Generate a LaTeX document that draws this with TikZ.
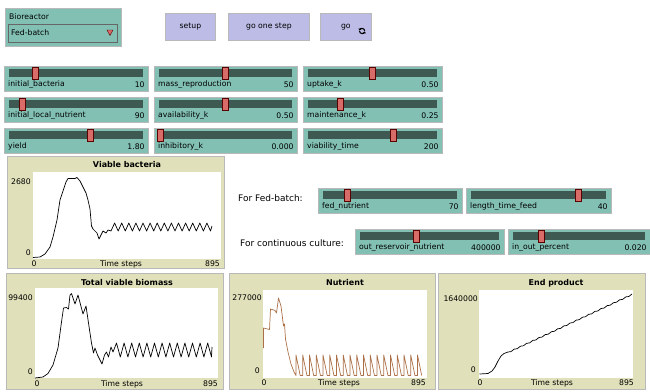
\documentclass[tikz,border=0pt]{standalone}
\usepackage{fontspec}
\setmainfont{DejaVu Sans}
\usepackage{tikz}
\usetikzlibrary{arrows.meta,positioning,shapes}
\definecolor{slidergreen}{RGB}{130,192,180}
\definecolor{trackgray}{RGB}{62,88,82}
\definecolor{knobred}{RGB}{216,108,104}
\definecolor{buttonblue}{RGB}{188,188,230}
\definecolor{plotbeige}{RGB}{224,224,186}
\definecolor{nutbrown}{RGB}{172,112,72}
% slider: name, left, top, right, knob, label, value
\newcommand{\netslider}[7]{%
  \node[slider, minimum width=#4pt-#2pt, anchor=north west] (#1) at (#2,#3) {};
  \fill[track] (#2+5,#3+3) rectangle (#4-5,#3+11);
  \draw[knob] (#5-3,#3+1) rectangle (#5+3,#3+13);
  \node[lbl, anchor=west] (#1-name) at ([xshift=4pt,yshift=7pt]#1.south west) {#6};
  \node[lbl, anchor=east] (#1-val)  at ([xshift=-4pt,yshift=7pt]#1.south east) {#7};
}

\begin{document}
\begin{tikzpicture}[x=1pt,y=-1pt]
\tikzstyle{slider}=[rectangle, draw=gray!55, line width=0.8pt, fill=slidergreen, minimum height=25pt, inner sep=0pt]
\tikzstyle{track}=[fill=trackgray]
\tikzstyle{knob}=[fill=knobred, draw=red!35!black, line width=0.4pt]
\tikzstyle{lbl}=[font=\fontsize{7.7}{9}\selectfont, inner sep=0pt]
\tikzstyle{ttl}=[font=\fontsize{8}{9}\selectfont\bfseries, inner sep=0pt]
\tikzstyle{note}=[font=\fontsize{9}{11}\selectfont, inner sep=0pt]
\tikzstyle{btn}=[rectangle, draw=gray!55, line width=0.8pt, fill=buttonblue, minimum height=27pt, inner sep=0pt, font=\fontsize{7.7}{9}\selectfont]
\tikzstyle{plotbox}=[rectangle, draw=gray!55, line width=0.8pt, fill=plotbeige, inner sep=0pt]
\tikzstyle{plotarea}=[rectangle, fill=white, inner sep=0pt]
\tikzstyle{series}=[line width=0.7pt, line join=round]

  \useasboundingbox (0,0) rectangle (650,391);
  \fill[white] (0,0) rectangle (650,391);

  % chooser and buttons
  \node[slider, minimum width=116pt, minimum height=38pt, anchor=north west] (chooser) at (5,8) {};
  \node[lbl, anchor=west] (choosername) at (9,17) {Bioreactor};
  \node[slider, draw=gray!80!black, minimum width=109pt, minimum height=18pt, anchor=north west] (menu) at (8,24) {};
  \node[lbl, anchor=west] (menuval) at (11,33) {Fed-batch};
  \draw[knob] (107,30) -- (113,30) -- (110,35.5) -- cycle;

  \node[btn, minimum width=50pt, anchor=north west] (setup) at (165,13) {setup};
  \node[btn, minimum width=81pt, anchor=north west] (onestep) at (228,13) {go one step};
  \node[btn, minimum width=51pt, anchor=north west] (go) at (320,13) {go};
  \draw[line width=1.1pt, -{Triangle[length=1.8pt,width=3pt]}] (359.5,31) arc[start angle=180, end angle=10, radius=2.6];
  \draw[line width=1.1pt, -{Triangle[length=1.8pt,width=3pt]}] (364.7,31) arc[start angle=0, end angle=-170, radius=2.6];

  % sliders
  \netslider{bact}{4}{66}{148}{35}{initial\_bacteria}{10}
  \netslider{massrep}{154}{66}{297}{225}{mass\_reproduction}{50}
  \netslider{uptake}{303}{66}{442}{372}{uptake\_k}{0.50}
  \netslider{nutr}{4}{97}{148}{22}{initial\_local\_nutrient}{90}
  \netslider{avail}{154}{97}{297}{225}{availability\_k}{0.50}
  \netslider{maint}{303}{97}{442}{340}{maintenance\_k}{0.25}
  \netslider{yield}{4}{128}{148}{90}{yield}{1.80}
  \netslider{inhib}{154}{128}{297}{160}{inhibitory\_k}{0.000}
  \netslider{viab}{303}{128}{442}{393}{viability\_time}{200}

  \node[note, anchor=west] (fedtext) at (238,198) {For Fed-batch:};
  \netslider{fed}{318}{188}{462}{347}{fed\_nutrient}{70}
  \netslider{feedtime}{466}{188}{611}{578}{length\_time\_feed}{40}
  \node[note, anchor=west] (conttext) at (240,243) {For continuous culture:};
  \netslider{reservoir}{355}{229}{504}{416}{out\_reservoir\_nutrient}{400000}
  \netslider{inout}{508}{229}{650}{541}{in\_out\_percent}{0.020}

  % viable bacteria
  \node[plotbox, minimum width=217pt, minimum height=112pt, anchor=north west] (viablebox) at (7,156) {};
  \node[plotarea, minimum width=188pt, minimum height=87pt, anchor=north west] (viablearea) at (33,172) {};
  \node[ttl] (viabletitle) at (127,165) {Viable bacteria};
  \node[lbl, anchor=east] (viablemax) at (31,182) {2680};
  \node[lbl, anchor=east] (viablemin) at (31,253) {0};
  \node[lbl] (viablex0) at (34,264) {0};
  \node[lbl] (viablexlab) at (121,264) {Time steps};
  \node[lbl, anchor=east] (viablexmax) at (220,264) {895};
  \draw[series] (33,257.5) -- (40,257) -- (45,254) -- (50,247) -- (53,237) -- (57,220) -- (60,200) -- (63,191) -- (66,182) -- (68,178.5) -- (75,178.5) -- (77,177.5) -- (80,181) -- (83,187) -- (86,193) -- (88,200) -- (90,209) -- (91.5,226) -- (93,229) -- (97,233) -- (99,239) -- (101,235) -- (103,231) -- (106,233) -- (108,230) -- (111,231)
    \foreach \i in {0,...,13} {-- ({114.6+7.1*\i},223) -- ({118.2+7.1*\i},231)} -- (212,226);

  % total viable biomass
  \node[plotbox, minimum width=217pt, minimum height=116pt, anchor=north west] (massbox) at (6,273) {};
  \node[plotarea, minimum width=183pt, minimum height=90pt, anchor=north west] (massarea) at (35,288) {};
  \node[ttl] (masstitle) at (127,283) {Total viable biomass};
  \node[lbl, anchor=east] (massmax) at (33,298) {99400};
  \node[lbl, anchor=east] (massmin) at (33,372) {0};
  \node[lbl] (massx0) at (37,384) {0};
  \node[lbl] (massxlab) at (122,384) {Time steps};
  \node[lbl, anchor=east] (massxmax) at (218,384) {895};
  \draw[series] (35,378) -- (43,377) -- (48,373.5) -- (53,365) -- (58,348) -- (61.5,322) -- (63.5,308) -- (66.5,307.5) -- (68.5,309) -- (70,295) -- (71.5,293.5) -- (75,304) -- (78,295) -- (83,314) -- (86,306) -- (88.5,323) -- (91.5,343) -- (93.5,353) -- (95,348) -- (97.5,355) -- (100,360) -- (102,364) -- (104.5,355) -- (106.5,352) -- (108.5,357) -- (111,347) -- (113,352)
    \foreach \i in {0,...,12} {-- ({116.5+7.6*\i},343) -- ({120.3+7.6*\i},357)} -- (212,347);

  % nutrient
  \node[plotbox, minimum width=206pt, minimum height=116pt, anchor=north west] (nutbox) at (229,273) {};
  \node[plotarea, minimum width=164pt, minimum height=88pt, anchor=north west] (nutarea) at (263,290) {};
  \node[ttl] (nuttitle) at (345,283) {Nutrient};
  \node[lbl, anchor=east] (nutmax) at (262,298) {277000};
  \node[lbl, anchor=east] (nutmin) at (260,371) {0};
  \node[lbl] (nutx0) at (264,383) {0};
  \node[lbl] (nutxlab) at (339,383) {Time steps};
  \node[lbl, anchor=east] (nutxmax) at (426,383) {895};
  \draw[series, nutbrown] (263.5,348) -- (263.5,328) -- (269.5,329.5) -- (270.5,309) -- (275,310.5) -- (276.5,313) -- (278.5,298) -- (281,306) -- (282,314) -- (283.5,326) -- (284.5,324) -- (285.5,339) -- (288,352) -- (291,364) -- (294,372) -- (296,375.5)
    \foreach \i in {0,...,18} {-- ({296+6.75*\i},375.5) -- ({296+6.75*\i},355) -- ({300.2+6.75*\i},375.5)};

  % end product
  \node[plotbox, minimum width=207pt, minimum height=116pt, anchor=north west] (prodbox) at (438,273) {};
  \node[plotarea, minimum width=154pt, minimum height=88pt, anchor=north west] (prodarea) at (479,290) {};
  \node[ttl] (prodtitle) at (556,283) {End product};
  \node[lbl, anchor=east] (prodmax) at (478,299) {1640000};
  \node[lbl, anchor=east] (prodmin) at (476,370) {0};
  \node[lbl] (prodx0) at (480,383) {0};
  \node[lbl] (prodxlab) at (552,383) {Time steps};
  \node[lbl, anchor=east] (prodxmax) at (634,383) {895};
  \draw[series] (479.5,374) -- (488,373.5) -- (492,371) -- (495,367) -- (498,361) -- (501,356) -- (504,353.5) -- (508,352)
    \foreach \i in {0,...,19} {-- ({511+6.2*\i},{351.6-2.9*\i}) -- ({514.2+6.2*\i},{349.1-2.9*\i})};

\end{tikzpicture}
\end{document}
